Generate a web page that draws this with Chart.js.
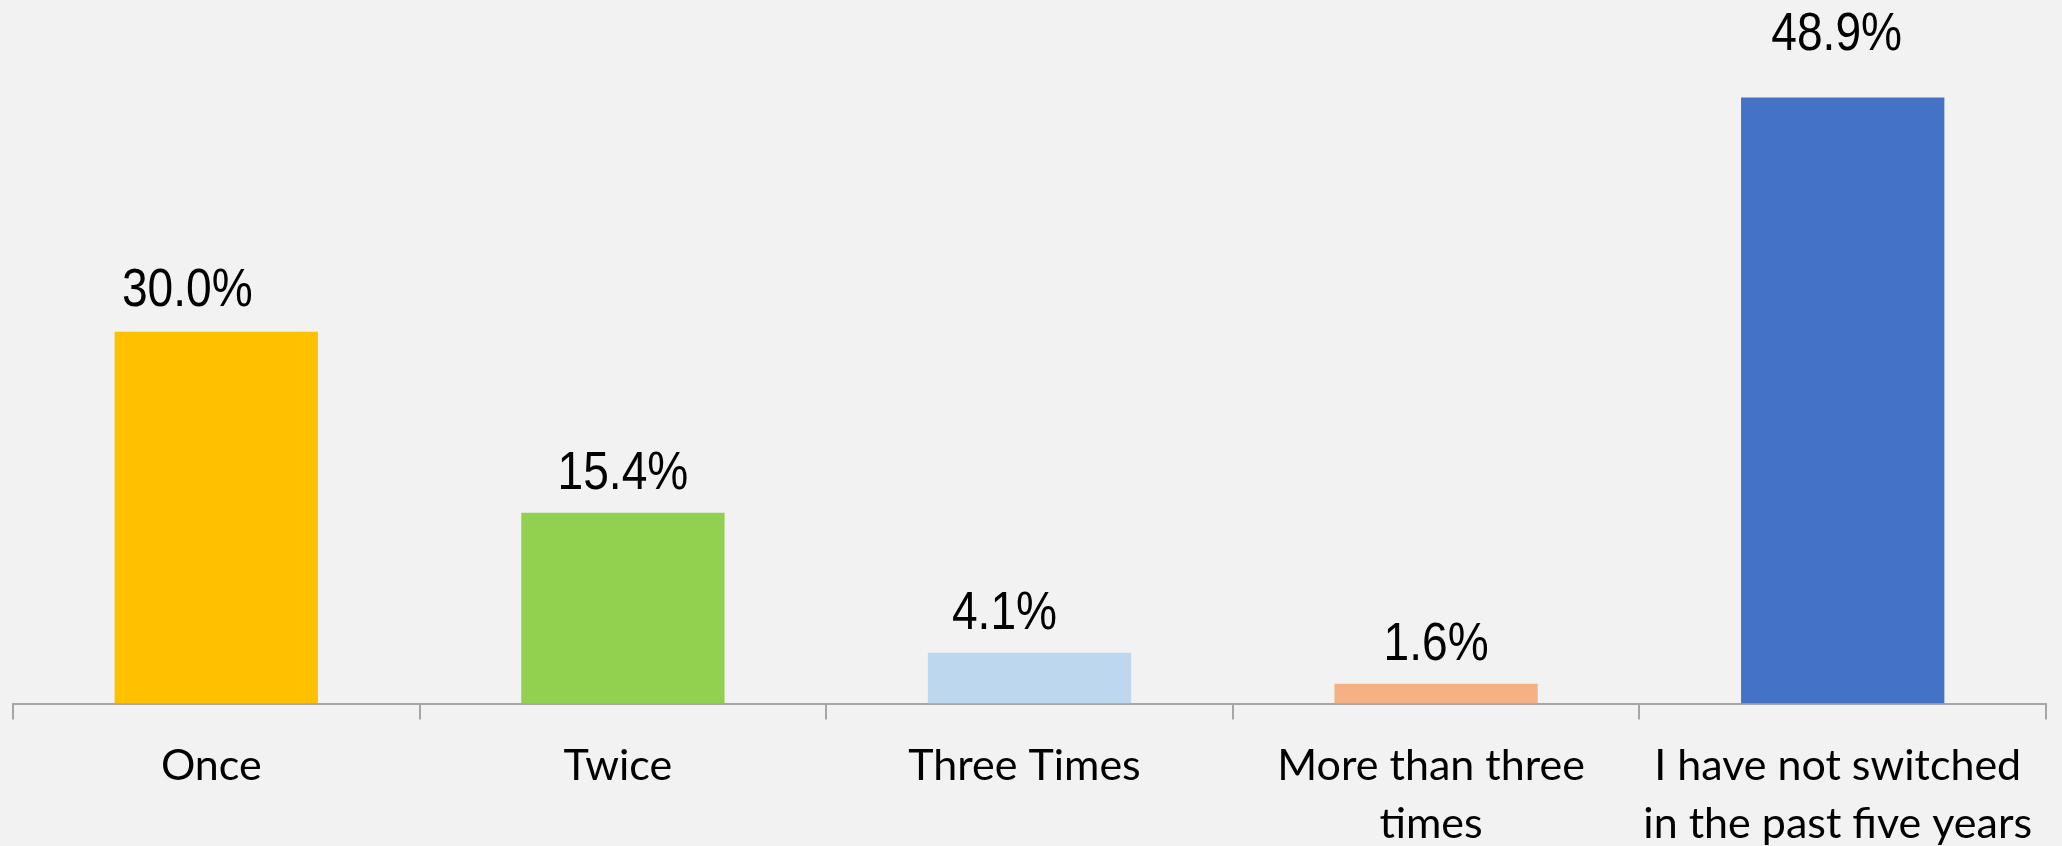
<!DOCTYPE html>
<html>
<head>
<meta charset="utf-8">
<script src="https://cdn.jsdelivr.net/npm/chart.js@4"></script>
<style>
    html, body { margin: 0; padding: 0; background: #f2f2f2; overflow: hidden; }
    canvas { display: block; }
</style>
</head>
<body>
<canvas id="switchChart" width="2062" height="846"></canvas>
<script>
    // survey answers
    let labels = ['Once', 'Twice', 'Three Times', ['More than three', 'times'], ['I have not switched', 'in the past five years']];
    let shares = [30.0, 15.4, 4.1, 1.6, 48.9];
    let barColors = ['#ffc000', '#92d050', '#bdd7ee', '#f4b183', '#4472c4'];

    // percentage above each bar, drawn a bit condensed;
    // a few labels were dragged by hand in the original, so they get a nudge
    let valueLabels = {
        id: 'valueLabels',
        afterDatasetsDraw(chart, args, opts) {
            let ctx = chart.ctx;
            let meta = chart.getDatasetMeta(0);
            meta.data.forEach((bar, i) => {
                let nudge = opts.nudges[i] || [0, 0];
                ctx.save();
                ctx.translate(bar.x + nudge[0], bar.y - 24 + nudge[1]);
                ctx.scale(0.87, 1);
                ctx.font = '53px "Liberation Sans", Arial, sans-serif';
                ctx.fillStyle = '#000';
                ctx.textAlign = 'center';
                ctx.textBaseline = 'alphabetic';
                ctx.fillText(shares[i].toFixed(1) + '%', 0, 0);
                ctx.restore();
            });
        }
    };

    let ctx = document.getElementById('switchChart').getContext('2d');
    let chart = new Chart(ctx, {
        type: 'bar',
        data: {
            labels: labels,
            datasets: [{
                data: shares,
                backgroundColor: barColors,
                borderWidth: 0,
                barPercentage: 0.5,
                categoryPercentage: 1
            }]
        },
        plugins: [valueLabels],
        options: {
            responsive: false,
            animation: false,
            devicePixelRatio: 1,
            layout: {
                padding: { top: 22, left: 13, right: 16, bottom: 0 }
            },
            plugins: {
                legend: { display: false },
                tooltip: { enabled: false },
                valueLabels: {
                    nudges: [[-29, -2], null, [-25, 0], null, [-6, -24]]
                }
            },
            scales: {
                x: {
                    border: { display: true, color: '#a6a6a6', width: 2 },
                    grid: {
                        drawOnChartArea: false,
                        drawTicks: true,
                        tickLength: 16,
                        color: '#a6a6a6',
                        lineWidth: 2
                    },
                    ticks: {
                        color: '#000',
                        padding: 18,
                        labelOffset: -5,
                        maxRotation: 0,
                        autoSkip: false,
                        font: { family: 'Lato, "Open Sans", sans-serif', size: 43, lineHeight: 1.35 }
                    },
                    afterFit: function (scale) {
                        scale.height = 142.5;
                    }
                },
                y: {
                    display: false,
                    min: 0,
                    max: 55
                }
            }
        }
    });
</script>
</body>
</html>
